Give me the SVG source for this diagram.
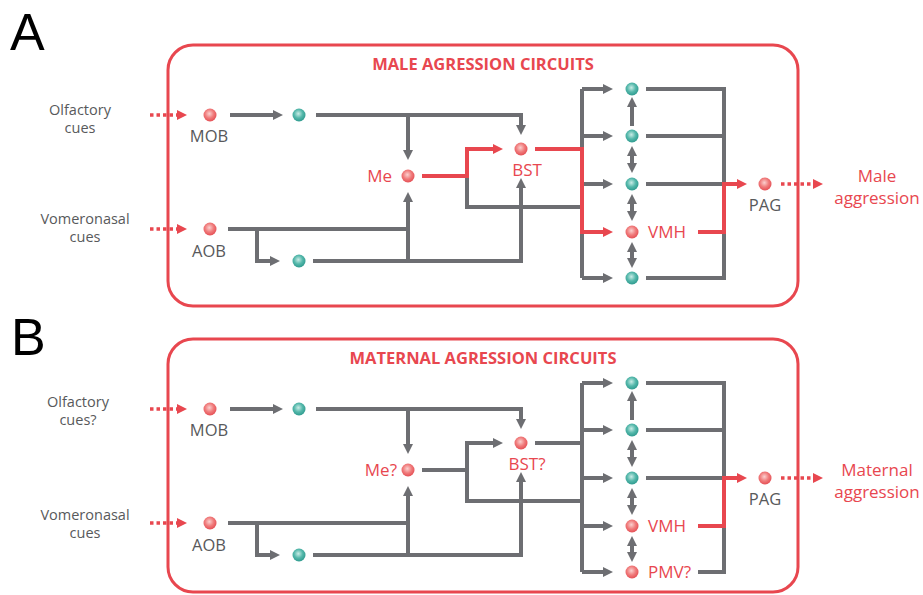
<svg xmlns="http://www.w3.org/2000/svg" width="923" height="595" viewBox="0 0 923 595">
<defs>
<radialGradient id="gr" cx="0.45" cy="0.4" r="0.6">
<stop offset="0" stop-color="#fbd0cf"/>
<stop offset="0.55" stop-color="#f07c7c"/>
<stop offset="1" stop-color="#e54f55"/>
</radialGradient>
<radialGradient id="gt" cx="0.45" cy="0.4" r="0.6">
<stop offset="0" stop-color="#c9ece6"/>
<stop offset="0.55" stop-color="#55b8ab"/>
<stop offset="1" stop-color="#2f9b8f"/>
</radialGradient>
<marker id="ag" viewBox="0 0 10 10" refX="1" refY="5" markerWidth="10" markerHeight="10" markerUnits="userSpaceOnUse" orient="auto-start-reverse">
<path d="M0,0 L10,5 L0,10 z" fill="#6d6e72"/>
</marker>
<marker id="ar" viewBox="0 0 10 10" refX="1" refY="5" markerWidth="10" markerHeight="10" markerUnits="userSpaceOnUse" orient="auto-start-reverse">
<path d="M0,0 L10,5 L0,10 z" fill="#e8474f"/>
</marker>
</defs>
<style>
.box{fill:none;stroke:#e8474f;stroke-width:3}
.g{fill:none;stroke:#6d6e72;stroke-width:4}
.r{fill:none;stroke:#e8474f;stroke-width:4}
.ga{marker-end:url(#ag)}
.gd{marker-start:url(#ag);marker-end:url(#ag)}
.ra{marker-end:url(#ar)}
.dot{fill:none;stroke:#e8474f;stroke-width:3.5;stroke-dasharray:3.5 3;marker-end:url(#ar)}
.nr{fill:url(#gr)}
.nt{fill:url(#gt)}
text{font-family:"Open Sans","Liberation Sans",sans-serif;font-size:16.5px}
.lg{fill:#58595b}
.lr{fill:#e8474f;font-size:17px}
.c{text-anchor:middle}
.e{text-anchor:end}
.t{font-weight:bold;font-size:16.5px;fill:#e8474f;text-anchor:middle}
.big{font-family:"Liberation Sans",Arial,sans-serif;font-size:52px;fill:#000}
.side{font-size:14.5px;fill:#58595b;text-anchor:middle}
.out{font-size:17px;fill:#e8474f;text-anchor:middle}
</style>

<text class="big" x="10" y="50">A</text>
<text class="big" x="11" y="355">B</text>

<!-- Panel A -->
<g id="panelA">
<rect class="box" x="168" y="45" width="630" height="261" rx="25"/>
<text class="t" x="483" y="70">MALE AGRESSION CIRCUITS</text>
<text class="side" x="80" y="115">Olfactory</text>
<text class="side" x="80" y="133">cues</text>
<text class="side" x="85" y="224">Vomeronasal</text>
<text class="side" x="85" y="242">cues</text>
<text class="out" x="877" y="182">Male</text>
<text class="out" x="877" y="204">aggression</text>
</g>

<g id="connectorsA">
<path class="dot" d="M150,115 H178"/>
<path class="dot" d="M150,229 H178"/>
<path class="g ga" d="M230,115 H274"/>
<path class="g ga" d="M316,115 H521 V126"/>
<path class="g ga" d="M408,115 V151"/>
<path class="g" d="M467,176 V207 H582"/>
<path class="g" d="M228,229 H408"/>
<path class="g ga" d="M408,261 V201"/>
<path class="g ga" d="M257,229 V261 H271"/>
<path class="g ga" d="M313,261 H521 V187"/>
<path class="g" d="M582,89 V278"/>
<path class="g ga" d="M582,89 H604"/>
<path class="g ga" d="M582,136 H604"/>
<path class="g ga" d="M582,184 H604"/>
<path class="g ga" d="M582,278 H604"/>
<path class="g ga" d="M632,126 V106"/>
<path class="g gd" d="M632,155 V164"/>
<path class="g gd" d="M632,203 V212"/>
<path class="g gd" d="M632,251 V259"/>
<path class="g" d="M646,89 H724 V278 H646"/>
<path class="g" d="M646,136 H724"/>
<path class="g" d="M646,184 H724"/>
<path class="r ra" d="M422,176 H467 V149 H494"/>
<path class="r ra" d="M535,149 H582 V232 H604"/>
<path class="r ra" d="M698,232 H724 V184 H738"/>
<path class="dot" d="M781,184 H814"/>
</g>

<g id="MOB_A"><circle class="nr" cx="210" cy="115" r="6.5"/><text class="lg c" x="209" y="142">MOB</text></g>
<g id="olfA"><circle class="nt" cx="299" cy="115" r="6.5"/></g>
<g id="Me_A"><circle class="nr" cx="408" cy="176" r="6.5"/><text class="lr e" x="392" y="182">Me</text></g>
<g id="BST_A"><circle class="nr" cx="521" cy="149" r="6.5"/><text class="lr c" x="527" y="176">BST</text></g>
<g id="AOB_A"><circle class="nr" cx="210" cy="229" r="6.5"/><text class="lg c" x="209" y="257">AOB</text></g>
<g id="vomA"><circle class="nt" cx="299" cy="261" r="6.5"/></g>
<g id="h1A"><circle class="nt" cx="632" cy="89" r="6.5"/></g>
<g id="h2A"><circle class="nt" cx="632" cy="136" r="6.5"/></g>
<g id="h3A"><circle class="nt" cx="632" cy="184" r="6.5"/></g>
<g id="VMH_A"><circle class="nr" cx="632" cy="232" r="6.5"/><text class="lr" x="648" y="238">VMH</text></g>
<g id="h5A"><circle class="nt" cx="632" cy="278" r="6.5"/></g>
<g id="PAG_A"><circle class="nr" cx="765" cy="184" r="6.5"/><text class="lg c" x="765" y="211">PAG</text></g>

<!-- Panel B -->
<g id="panelB">
<rect class="box" x="168" y="339" width="630" height="253" rx="25"/>
<text class="t" x="483" y="364">MATERNAL AGRESSION CIRCUITS</text>
<text class="side" x="78" y="407">Olfactory</text>
<text class="side" x="78" y="425">cues?</text>
<text class="side" x="85" y="520">Vomeronasal</text>
<text class="side" x="85" y="538">cues</text>
<text class="out" x="877" y="476">Maternal</text>
<text class="out" x="877" y="498">aggression</text>
</g>

<g id="connectorsB">
<path class="dot" d="M150,409 H178"/>
<path class="dot" d="M150,523 H178"/>
<path class="g ga" d="M230,409 H274"/>
<path class="g ga" d="M316,409 H521 V420"/>
<path class="g ga" d="M408,409 V445"/>
<path class="g" d="M467,470 V501 H582"/>
<path class="g" d="M228,523 H408"/>
<path class="g ga" d="M408,555 V495"/>
<path class="g ga" d="M257,523 V555 H271"/>
<path class="g ga" d="M313,555 H521 V481"/>
<path class="g" d="M582,383 V572"/>
<path class="g ga" d="M582,383 H604"/>
<path class="g ga" d="M582,430 H604"/>
<path class="g ga" d="M582,478 H604"/>
<path class="g ga" d="M582,526 H604"/>
<path class="g ga" d="M582,572 H604"/>
<path class="g ga" d="M632,420 V400"/>
<path class="g gd" d="M632,449 V458"/>
<path class="g gd" d="M632,497 V506"/>
<path class="g gd" d="M632,545 V553"/>
<path class="g" d="M646,383 H724 V572 H698"/>
<path class="g" d="M646,430 H724"/>
<path class="g" d="M646,478 H724"/>
<path class="g ga" d="M422,470 H467 V443 H494"/>
<path class="g" d="M535,443 H582"/>
<path class="r ra" d="M698,526 H724 V478 H738"/>
<path class="dot" d="M781,478 H814"/>
</g>

<g id="MOB_B"><circle class="nr" cx="210" cy="409" r="6.5"/><text class="lg c" x="209" y="436">MOB</text></g>
<g id="olfB"><circle class="nt" cx="299" cy="409" r="6.5"/></g>
<g id="Me_B"><circle class="nr" cx="408" cy="470" r="6.5"/><text class="lr e" x="397" y="476">Me?</text></g>
<g id="BST_B"><circle class="nr" cx="521" cy="443" r="6.5"/><text class="lr c" x="527" y="470">BST?</text></g>
<g id="AOB_B"><circle class="nr" cx="210" cy="523" r="6.5"/><text class="lg c" x="209" y="551">AOB</text></g>
<g id="vomB"><circle class="nt" cx="299" cy="555" r="6.5"/></g>
<g id="h1B"><circle class="nt" cx="632" cy="383" r="6.5"/></g>
<g id="h2B"><circle class="nt" cx="632" cy="430" r="6.5"/></g>
<g id="h3B"><circle class="nt" cx="632" cy="478" r="6.5"/></g>
<g id="VMH_B"><circle class="nr" cx="632" cy="526" r="6.5"/><text class="lr" x="648" y="532">VMH</text></g>
<g id="PMV_B"><circle class="nr" cx="632" cy="572" r="6.5"/><text class="lr" x="648" y="578">PMV?</text></g>
<g id="PAG_B"><circle class="nr" cx="765" cy="478" r="6.5"/><text class="lg c" x="765" y="505">PAG</text></g>
</svg>
